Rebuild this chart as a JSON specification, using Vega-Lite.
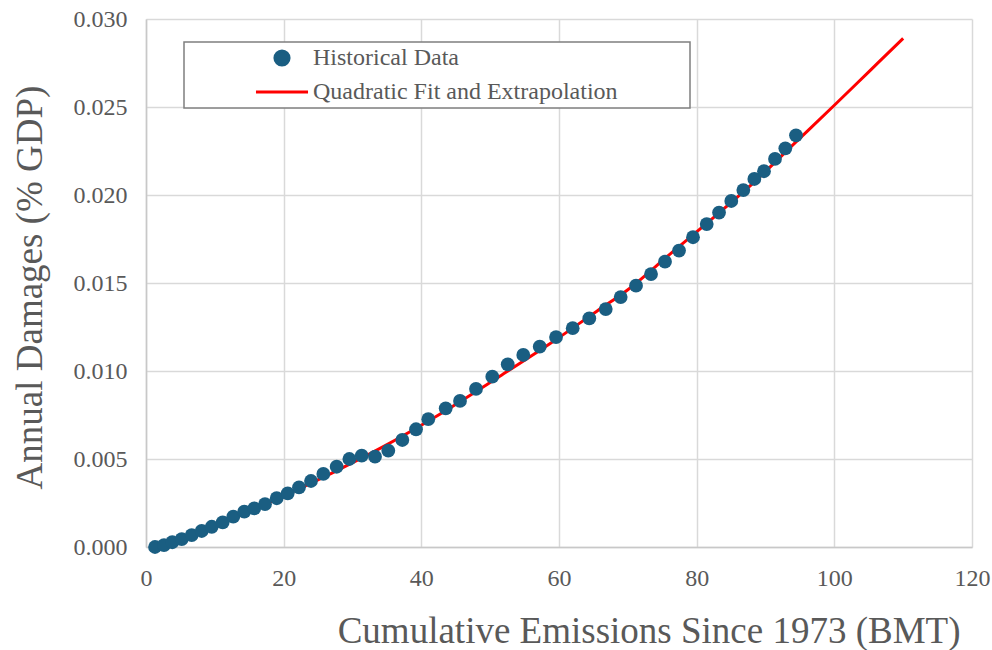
{
  "$schema": "https://vega.github.io/schema/vega-lite/v6.json",
  "width": 826,
  "height": 528,
  "autosize": {"type": "none"},
  "padding": {"left": 146, "top": 19, "right": 20, "bottom": 103},
  "background": "white",
  "config": {"view": {"stroke": null}, "font": "Liberation Serif"},
  "datasets": {
    "hist": [
      {"x": 1.31, "y": 0.0}, {"x": 2.62, "y": 0.00011}, {"x": 3.82, "y": 0.00027}, {"x": 5.19, "y": 0.00045},
      {"x": 6.64, "y": 0.00068}, {"x": 8.09, "y": 0.00091}, {"x": 9.55, "y": 0.00115}, {"x": 11.14, "y": 0.0014},
      {"x": 12.68, "y": 0.00172}, {"x": 14.28, "y": 0.00201}, {"x": 15.73, "y": 0.0022}, {"x": 17.29, "y": 0.00243},
      {"x": 18.99, "y": 0.00277}, {"x": 20.59, "y": 0.00305}, {"x": 22.23, "y": 0.00339}, {"x": 23.97, "y": 0.00375},
      {"x": 25.76, "y": 0.00415}, {"x": 27.7, "y": 0.00456}, {"x": 29.54, "y": 0.005}, {"x": 31.34, "y": 0.00519},
      {"x": 33.27, "y": 0.00513}, {"x": 35.2, "y": 0.00547}, {"x": 37.24, "y": 0.00608}, {"x": 39.23, "y": 0.00669},
      {"x": 41.01, "y": 0.00726}, {"x": 43.54, "y": 0.00788}, {"x": 45.62, "y": 0.0083}, {"x": 47.94, "y": 0.00898},
      {"x": 50.31, "y": 0.00968}, {"x": 52.55, "y": 0.01038}, {"x": 54.81, "y": 0.01091}, {"x": 57.2, "y": 0.01138},
      {"x": 59.57, "y": 0.01193}, {"x": 61.99, "y": 0.01243}, {"x": 64.4, "y": 0.01299}, {"x": 66.79, "y": 0.01352},
      {"x": 68.96, "y": 0.0142}, {"x": 71.19, "y": 0.01485}, {"x": 73.37, "y": 0.01551}, {"x": 75.4, "y": 0.01621},
      {"x": 77.44, "y": 0.01684}, {"x": 79.47, "y": 0.0176}, {"x": 81.46, "y": 0.01835}, {"x": 83.25, "y": 0.019},
      {"x": 85.03, "y": 0.01966}, {"x": 86.78, "y": 0.02028}, {"x": 88.38, "y": 0.02091}, {"x": 89.78, "y": 0.02135},
      {"x": 91.38, "y": 0.02205}, {"x": 92.88, "y": 0.02265}, {"x": 94.43, "y": 0.02339}
    ],
    "fit": [
      {"x": 1.3, "y": 0.0001}, {"x": 10, "y": 0.0012}, {"x": 20, "y": 0.0029}, {"x": 27, "y": 0.0042},
      {"x": 34, "y": 0.0056}, {"x": 42.5, "y": 0.0075}, {"x": 51.4, "y": 0.0097}, {"x": 58.5, "y": 0.0115},
      {"x": 65.5, "y": 0.0134}, {"x": 70, "y": 0.01462}, {"x": 76, "y": 0.0166}, {"x": 82.4, "y": 0.0187},
      {"x": 88, "y": 0.0206}, {"x": 94.4, "y": 0.023}, {"x": 100, "y": 0.0251}, {"x": 105, "y": 0.027},
      {"x": 110, "y": 0.0289}
    ]
  },
  "encoding": {
    "x": {
      "field": "x", "type": "quantitative",
      "scale": {"domain": [0, 120], "nice": false, "zero": false},
      "axis": {
        "values": [0, 20, 40, 60, 80, 100, 120],
        "format": "d",
        "title": "Cumulative Emissions Since 1973 (BMT)",
        "titleFont": "Liberation Serif", "titleFontSize": 37, "titleFontWeight": "normal", "titleColor": "#595959",
        "titleX": 814, "titleY": 95, "titleAlign": "right", "titleAnchor": null, "titleBaseline": "alphabetic",
        "labelFont": "Liberation Serif", "labelFontSize": 24, "labelColor": "#595959", "labelPadding": 19,
        "ticks": false, "grid": true, "gridColor": "#d9d9d9", "gridWidth": 1.5,
        "domainColor": "#c8c8c8", "domainWidth": 1.5, "labelFlush": false, "labelOverlap": false
      }
    },
    "y": {
      "field": "y", "type": "quantitative",
      "scale": {"domain": [0, 0.03], "nice": false},
      "axis": {
        "values": [0, 0.005, 0.01, 0.015, 0.02, 0.025, 0.03],
        "format": ".3f",
        "title": "Annual Damages (% GDP)",
        "titleFont": "Liberation Serif", "titleFontSize": 37, "titleFontWeight": "normal", "titleColor": "#595959",
        "titleX": -116, "titleY": 268, "titleAlign": "center", "titleAnchor": null, "titleBaseline": "middle", "titleAngle": -90,
        "labelFont": "Liberation Serif", "labelFontSize": 24, "labelColor": "#595959", "labelPadding": 19,
        "ticks": false, "grid": true, "gridColor": "#d9d9d9", "gridWidth": 1.5,
        "domainColor": "#c8c8c8", "domainWidth": 1.5, "labelFlush": false, "labelOverlap": false
      }
    }
  },
  "layer": [
    {
      "data": {"name": "fit"},
      "mark": {"type": "line", "strokeWidth": 3, "interpolate": "monotone"},
      "encoding": {
        "color": {
          "datum": "Quadratic Fit and Extrapolation",
          "type": "nominal",
          "scale": {"domain": ["Historical Data", "Quadratic Fit and Extrapolation"], "range": ["#1a5e82", "#ff0000"]},
          "legend": {
            "title": "\u00a0",
            "titleOrient": "right",
            "titlePadding": 68,
            "titleFontSize": 24,
            "orient": "none",
            "legendX": 38,
            "legendY": 23,
            "padding": 4,
            "symbolOffset": 82,
            "symbolSize": 200,
            "symbolStrokeWidth": 3,
            "rowPadding": 8,
            "labelOffset": 19,
            "labelFont": "Liberation Serif",
            "labelFontSize": 24,
            "labelColor": "#595959",
            "labelLimit": 600,
            "strokeColor": "#7f7f7f",
            "fillColor": "white",
            "encode": {
              "legend": {"update": {"strokeWidth": {"value": 1.5}}},
              "symbols": {
                "update": {
                  "shape": {"signal": "datum.value == 'Historical Data' ? 'circle' : 'M-3.68,0L3.68,0'"},
                  "size": {"value": 200},
                  "fill": {"signal": "datum.value == 'Historical Data' ? '#1a5e82' : 'transparent'"},
                  "stroke": {"signal": "datum.value == 'Historical Data' ? 'transparent' : '#ff0000'"},
                  "strokeWidth": {"value": 3},
                  "opacity": {"value": 1}
                }
              }
            }
          }
        }
      }
    },
    {
      "data": {"name": "hist"},
      "mark": {"type": "circle", "size": 190, "opacity": 1},
      "encoding": {
        "color": {"datum": "Historical Data", "type": "nominal"}
      }
    }
  ]
}
